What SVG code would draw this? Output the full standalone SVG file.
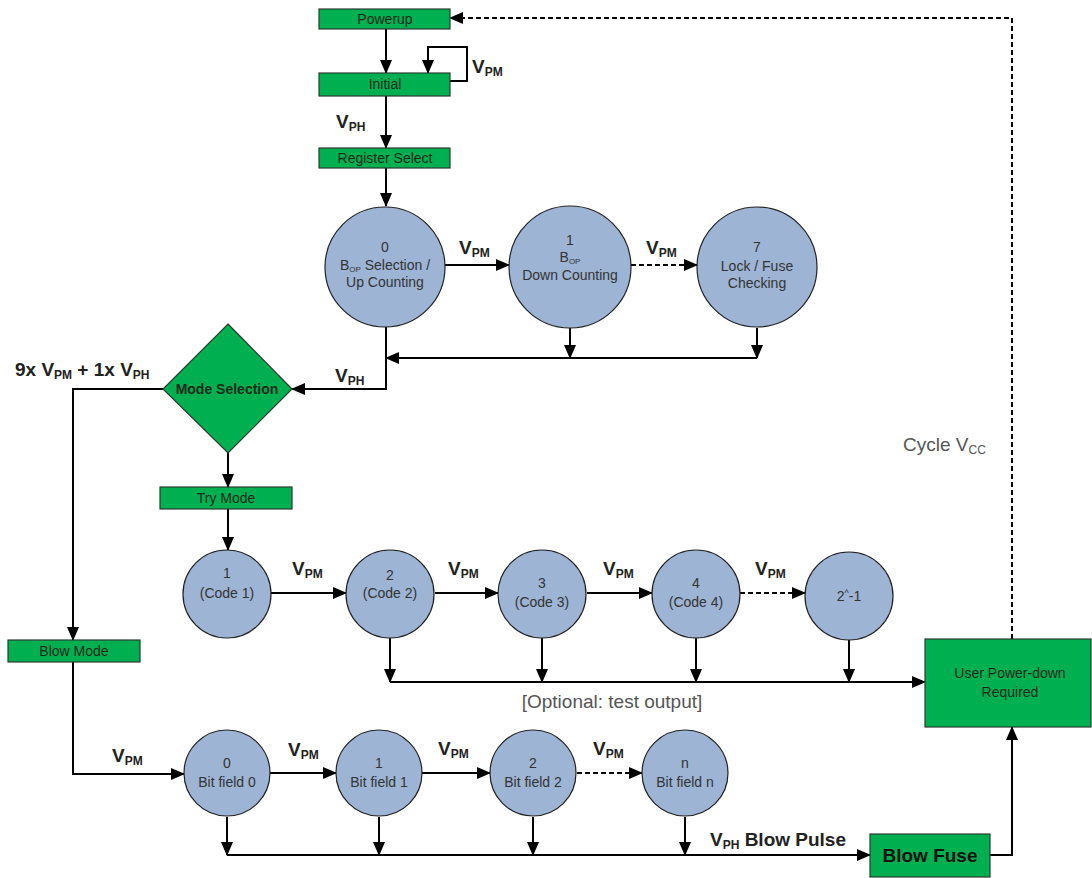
<svg xmlns="http://www.w3.org/2000/svg" width="1092" height="878" viewBox="0 0 1092 878">
<style>
.box{fill:#00b050;stroke:#2b3b30;stroke-width:1.2}
.circ{fill:#9db4d5;stroke:#222;stroke-width:1.2}
.t{font-family:"Liberation Sans",Arial,sans-serif;font-size:14px;fill:#333;text-anchor:middle}
.bt{font-family:"Liberation Sans",Arial,sans-serif;font-size:14px;fill:#1a2a1a;text-anchor:middle}
.v{font-family:"Liberation Sans",Arial,sans-serif;font-size:19px;font-weight:bold;fill:#222}
.s{font-size:12px}
.g{font-family:"Liberation Sans",Arial,sans-serif;font-size:19px;fill:#555}
.ln{fill:none;stroke:#000;stroke-width:2}
.da{stroke-dasharray:5,3}
</style>
<defs>
<marker id="ah" markerUnits="userSpaceOnUse" markerWidth="14" markerHeight="14" viewBox="0 0 14 14" refX="13" refY="7" orient="auto">
<path d="M0,1 L14,7 L0,13 Z" fill="#000"/>
</marker>
</defs>
<g id="connectors">
<path class="ln" d="M386,29 V73" marker-end="url(#ah)"/>
<path class="ln" d="M450,81 H467 V47 H428 V73" marker-end="url(#ah)"/>
<path class="ln" d="M386,96 V148" marker-end="url(#ah)"/>
<path class="ln" d="M386,168 V206" marker-end="url(#ah)"/>
<path class="ln" d="M445,265 H509" marker-end="url(#ah)"/>
<path class="ln da" d="M631,265 H697" marker-end="url(#ah)"/>
<path class="ln" d="M570,328 V358" marker-end="url(#ah)"/>
<path class="ln" d="M757,328 V358" marker-end="url(#ah)"/>
<path class="ln" d="M757,358 H386" marker-end="url(#ah)"/>
<path class="ln" d="M386,327 V389 H292" marker-end="url(#ah)"/>
<path class="ln" d="M228,453 V487" marker-end="url(#ah)"/>
<path class="ln" d="M228,509 V550" marker-end="url(#ah)"/>
<path class="ln" d="M163,389 H73 V640" marker-end="url(#ah)"/>
<path class="ln" d="M271,593 H346" marker-end="url(#ah)"/>
<path class="ln" d="M435,593 H498" marker-end="url(#ah)"/>
<path class="ln" d="M587,593 H652" marker-end="url(#ah)"/>
<path class="ln da" d="M740,593 H805" marker-end="url(#ah)"/>
<path class="ln" d="M390,638 V682" marker-end="url(#ah)"/>
<path class="ln" d="M542,638 V682" marker-end="url(#ah)"/>
<path class="ln" d="M696,638 V682" marker-end="url(#ah)"/>
<path class="ln" d="M849,640 V682" marker-end="url(#ah)"/>
<path class="ln" d="M390,682 H925" marker-end="url(#ah)"/>
<path class="ln da" d="M1012,639 V18 H450" marker-end="url(#ah)"/>
<path class="ln" d="M73,662 V774 H184" marker-end="url(#ah)"/>
<path class="ln" d="M270,773 H336" marker-end="url(#ah)"/>
<path class="ln" d="M422,773 H490" marker-end="url(#ah)"/>
<path class="ln da" d="M577,773 H642" marker-end="url(#ah)"/>
<path class="ln" d="M227,817 V855" marker-end="url(#ah)"/>
<path class="ln" d="M379,817 V855" marker-end="url(#ah)"/>
<path class="ln" d="M533,817 V855" marker-end="url(#ah)"/>
<path class="ln" d="M685,817 V855" marker-end="url(#ah)"/>
<path class="ln" d="M227,855 H870" marker-end="url(#ah)"/>
<path class="ln" d="M990,855 H1012 V727" marker-end="url(#ah)"/>
</g>
<g id="labels">
<text class="v" x="472" y="73">V<tspan class="s" dy="3">PM</tspan></text>
<text class="v" x="336" y="128">V<tspan class="s" dy="3">PH</tspan></text>
<text class="v" x="459" y="254">V<tspan class="s" dy="3">PM</tspan></text>
<text class="v" x="646" y="254">V<tspan class="s" dy="3">PM</tspan></text>
<text class="v" x="335" y="382">V<tspan class="s" dy="3">PH</tspan></text>
<text class="v" x="15" y="376">9x V<tspan class="s" dy="3">PM</tspan><tspan dy="-3"> + 1x V</tspan><tspan class="s" dy="3">PH</tspan></text>
<text class="v" x="292" y="575">V<tspan class="s" dy="3">PM</tspan></text>
<text class="v" x="448" y="575">V<tspan class="s" dy="3">PM</tspan></text>
<text class="v" x="603" y="575">V<tspan class="s" dy="3">PM</tspan></text>
<text class="v" x="755" y="575">V<tspan class="s" dy="3">PM</tspan></text>
<text class="v" x="112" y="762">V<tspan class="s" dy="3">PM</tspan></text>
<text class="v" x="288" y="756">V<tspan class="s" dy="3">PM</tspan></text>
<text class="v" x="438" y="755">V<tspan class="s" dy="3">PM</tspan></text>
<text class="v" x="593" y="755">V<tspan class="s" dy="3">PM</tspan></text>
<text class="v" x="710" y="846">V<tspan class="s" dy="3">PH</tspan><tspan dy="-3"> Blow Pulse</tspan></text>
<text class="g" x="903" y="451">Cycle V<tspan class="s" dy="3">CC</tspan></text>
<text class="g" x="612" y="708" text-anchor="middle">[Optional: test output]</text>
</g>
<g id="powerup"><rect class="box" x="319" y="9" width="131" height="20"/><text class="bt" x="385" y="24">Powerup</text></g>
<g id="initial"><rect class="box" x="319" y="73" width="131" height="23"/><text class="bt" x="385" y="89">Initial</text></g>
<g id="register-select"><rect class="box" x="319" y="148" width="131" height="20"/><text class="bt" x="385" y="163">Register Select</text></g>
<g id="reg0"><circle class="circ" cx="385" cy="267" r="60"/><text class="t" x="385" y="252">0</text><text class="t" x="385" y="270">B<tspan font-size="8" dy="2">OP</tspan><tspan dy="-2"> Selection /</tspan></text><text class="t" x="385" y="287">Up Counting</text></g>
<g id="reg1"><circle class="circ" cx="570" cy="267" r="61"/><text class="t" x="570" y="245">1</text><text class="t" x="570" y="262">B<tspan font-size="8" dy="2">OP</tspan></text><text class="t" x="570" y="280">Down Counting</text></g>
<g id="reg7"><circle class="circ" cx="757" cy="267" r="60"/><text class="t" x="757" y="252">7</text><text class="t" x="757" y="271">Lock / Fuse</text><text class="t" x="757" y="288">Checking</text></g>
<g id="mode-selection"><path class="box" d="M228,324 L292,389 L228,453 L163,389 Z"/><text class="bt" x="227" y="394" style="font-weight:bold">Mode Selection</text></g>
<g id="try-mode"><rect class="box" x="160" y="487" width="132" height="22"/><text class="bt" x="226" y="503">Try Mode</text></g>
<g id="code1"><circle class="circ" cx="227" cy="594" r="44"/><text class="t" x="227" y="578">1</text><text class="t" x="227" y="598">(Code 1)</text></g>
<g id="code2"><circle class="circ" cx="390" cy="594" r="44"/><text class="t" x="390" y="580">2</text><text class="t" x="390" y="598">(Code 2)</text></g>
<g id="code3"><circle class="circ" cx="542" cy="594" r="44"/><text class="t" x="542" y="588">3</text><text class="t" x="542" y="607">(Code 3)</text></g>
<g id="code4"><circle class="circ" cx="696" cy="594" r="44"/><text class="t" x="696" y="588">4</text><text class="t" x="696" y="607">(Code 4)</text></g>
<g id="code2n"><circle class="circ" cx="849" cy="596" r="44"/><text class="t" x="849" y="601">2<tspan font-size="9" dy="-5">^</tspan><tspan dy="5">-1</tspan></text></g>
<g id="user-power-down"><rect class="box" x="925" y="639" width="166" height="88"/><text class="bt" x="1010" y="678">User Power-down</text><text class="bt" x="1010" y="697">Required</text></g>
<g id="blow-mode"><rect class="box" x="8" y="640" width="132" height="22"/><text class="bt" x="74" y="656">Blow Mode</text></g>
<g id="bit0"><circle class="circ" cx="227" cy="773" r="43"/><text class="t" x="227" y="768">0</text><text class="t" x="227" y="787">Bit field 0</text></g>
<g id="bit1"><circle class="circ" cx="379" cy="773" r="43"/><text class="t" x="379" y="768">1</text><text class="t" x="379" y="787">Bit field 1</text></g>
<g id="bit2"><circle class="circ" cx="533" cy="773" r="43"/><text class="t" x="533" y="768">2</text><text class="t" x="533" y="787">Bit field 2</text></g>
<g id="bitn"><circle class="circ" cx="685" cy="773" r="43"/><text class="t" x="685" y="768">n</text><text class="t" x="685" y="787">Bit field n</text></g>
<g id="blow-fuse"><rect class="box" x="870" y="834" width="120" height="43"/><text class="bt" x="930" y="862" style="font-size:19px;font-weight:bold;fill:#111">Blow Fuse</text></g>
</svg>
